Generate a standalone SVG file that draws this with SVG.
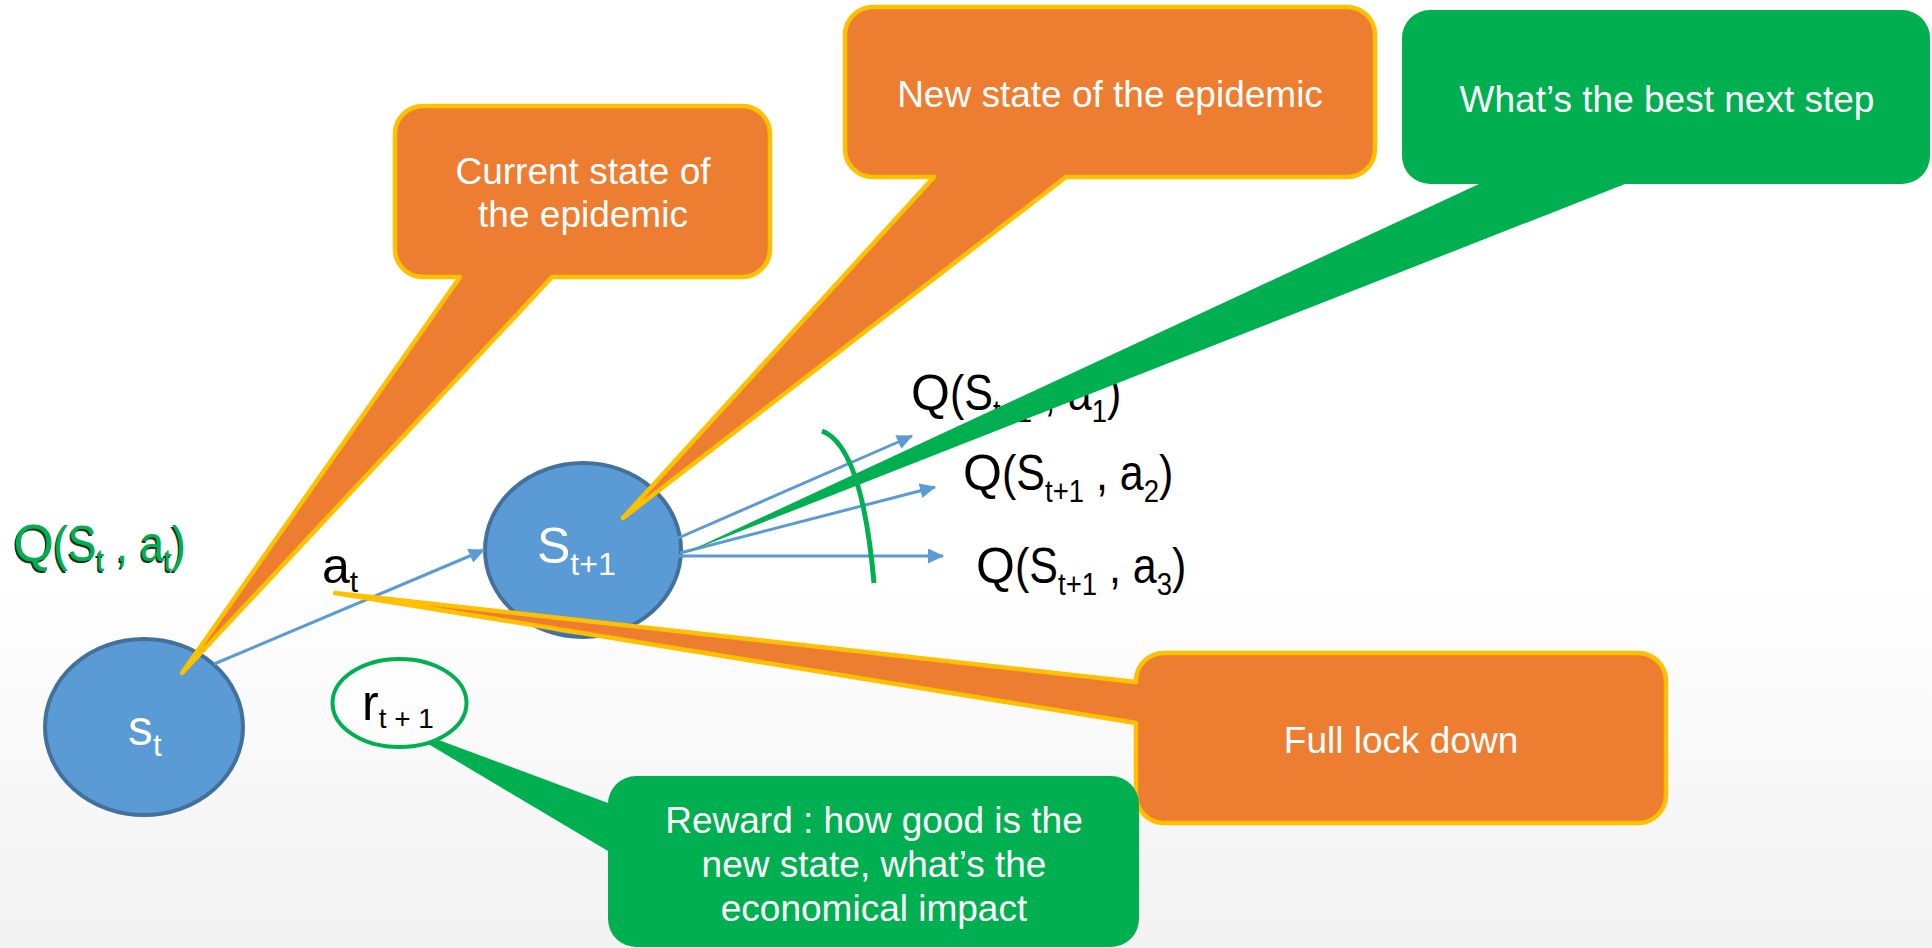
<svg xmlns="http://www.w3.org/2000/svg" width="1932" height="948" viewBox="0 0 1932 948">
<defs>
<linearGradient id="bg" x1="0" y1="0" x2="0" y2="1"><stop offset="0" stop-color="#FEFEFE"/><stop offset="1" stop-color="#F2F2F2"/></linearGradient>
<marker id="ah" viewBox="0 0 16 15" markerWidth="16" markerHeight="15" refX="15" refY="7.5" orient="auto" markerUnits="userSpaceOnUse"><path d="M0,0 L16,7.5 L0,15 Z" fill="#5B9BD5"/></marker>
<style>
text { font-family: "Liberation Sans", Arial, sans-serif; }
.call { font-size: 37px; fill: #FFFFFF; text-anchor: middle; }
.node { fill: #5B9BD5; stroke: #41719C; stroke-width: 4; }
.ntext { font-size: 50px; fill: #FFFFFF; }
.orange { fill: #ED7D31; stroke: #FFC000; stroke-width: 4.5; stroke-linejoin: round; }
.green { fill: #00B050; stroke: none; }
.arrow { stroke: #5B9BD5; stroke-width: 3; fill: none; marker-end: url(#ah); }
.q { font-size: 50px; fill: #000000; }
.sub { font-size: 32px; }
.lbl { font-size: 50px; fill: #000000; }
.gq { font-size: 52px; }
.gshadow { fill: #17361C; }
.gfill { fill: #00B050; }
</style>
</defs>
<rect x="0" y="0" width="1932" height="948" fill="#FFFFFF"/>
<rect x="0" y="590" width="1932" height="358" fill="url(#bg)"/>

<g id="q-labels">
<text class="q" x="911" y="410">Q</text>
<text class="q" transform="translate(950,410) scale(0.86,1)">(S<tspan class="sub" dy="12">t+1</tspan><tspan dy="-12"> , a</tspan><tspan class="sub" dy="12">1</tspan><tspan dy="-12">)</tspan></text>
<text class="q" x="963" y="490">Q</text>
<text class="q" transform="translate(1002,490) scale(0.86,1)">(S<tspan class="sub" dy="12">t+1</tspan><tspan dy="-12"> , a</tspan><tspan class="sub" dy="12">2</tspan><tspan dy="-12">)</tspan></text>
<text class="q" x="976" y="583">Q</text>
<text class="q" transform="translate(1015,583) scale(0.86,1)">(S<tspan class="sub" dy="12">t+1</tspan><tspan dy="-12"> , a</tspan><tspan class="sub" dy="12">3</tspan><tspan dy="-12">)</tspan></text>
</g>

<g id="q-current">
<text class="gq gshadow" x="12" y="562.5">Q</text>
<text class="q gshadow" transform="translate(52,562.5) scale(0.86,1)">(S<tspan class="sub" dy="10">t</tspan><tspan dy="-10"> , a</tspan><tspan class="sub" dy="10">t</tspan><tspan dy="-10">)</tspan></text>
<text class="gq gfill" x="13.5" y="561">Q</text>
<text class="q gfill" transform="translate(53.5,561) scale(0.86,1)">(S<tspan class="sub" dy="10">t</tspan><tspan dy="-10"> , a</tspan><tspan class="sub" dy="10">t</tspan><tspan dy="-10">)</tspan></text>
</g>

<g id="node-st">
<ellipse class="node" cx="144" cy="727" rx="99" ry="88"/>
<text class="ntext" x="128" y="745">s<tspan font-size="31" dy="11">t</tspan></text>
</g>

<g id="node-st1">
<ellipse class="node" cx="583" cy="550" rx="98" ry="87"/>
<text class="ntext" x="537" y="563">S<tspan font-size="32" dy="12">t+1</tspan></text>
</g>

<g id="label-at">
<text class="lbl" x="322" y="583">a<tspan font-size="30" dy="9">t</tspan></text>
</g>

<g id="connectors">
<path class="arrow" d="M214,664 L484,550"/>
<path class="arrow" d="M676,539 L912,436"/>
<path class="arrow" d="M680,553 L935,487"/>
<path class="arrow" d="M678,556 L943,556"/>
<path d="M822,431 Q862,446 874,583" fill="none" stroke="#00B050" stroke-width="5"/>
</g>

<g id="callout-current">
<path class="orange" d="M423,106 H742 A28,28 0 0 1 770,134 V249 A28,28 0 0 1 742,277 H552 L182,673 L460,277 H423 A28,28 0 0 1 395,249 V134 A28,28 0 0 1 423,106 Z"/>
<text class="call" x="583" y="184">Current state of</text>
<text class="call" x="583" y="227">the epidemic</text>
</g>

<g id="callout-new">
<path class="orange" d="M873,7 H1347 A28,28 0 0 1 1375,35 V149 A28,28 0 0 1 1347,177 H1066 L623,518 L934,177 H873 A28,28 0 0 1 845,149 V35 A28,28 0 0 1 873,7 Z"/>
<text class="call" x="1110" y="107">New state of the epidemic</text>
</g>

<g id="callout-best">
<path class="green" d="M1430,10 H1902 A28,28 0 0 1 1930,38 V156 A28,28 0 0 1 1902,184 H1625 L685,553 L1479,184 H1430 A28,28 0 0 1 1402,156 V38 A28,28 0 0 1 1430,10 Z"/>
<text class="call" x="1667" y="112">What’s the best next step</text>
</g>

<g id="callout-lockdown">
<path class="orange" d="M1164,653 H1638 A28,28 0 0 1 1666,681 V795 A28,28 0 0 1 1638,823 H1164 A28,28 0 0 1 1136,795 V723 L335,593 L1136,682 V681 A28,28 0 0 1 1164,653 Z"/>
<text class="call" x="1401" y="753">Full lock down</text>
</g>

<g id="callout-reward">
<path class="green" d="M636,776 H1111 A28,28 0 0 1 1139,804 V919 A28,28 0 0 1 1111,947 H636 A28,28 0 0 1 608,919 V851 L393,723 L608,803 V804 A28,28 0 0 1 636,776 Z"/>
<text class="call" x="874" y="833">Reward : how good is the</text>
<text class="call" x="874" y="877">new state, what’s the</text>
<text class="call" x="874" y="921">economical impact</text>
</g>

<g id="node-reward">
<ellipse cx="399.5" cy="703" rx="67" ry="44" fill="#FDFDFD" stroke="#00B050" stroke-width="4"/>
<text class="lbl" x="362" y="720">r<tspan font-size="28" dy="8">t + 1</tspan></text>
</g>
</svg>
